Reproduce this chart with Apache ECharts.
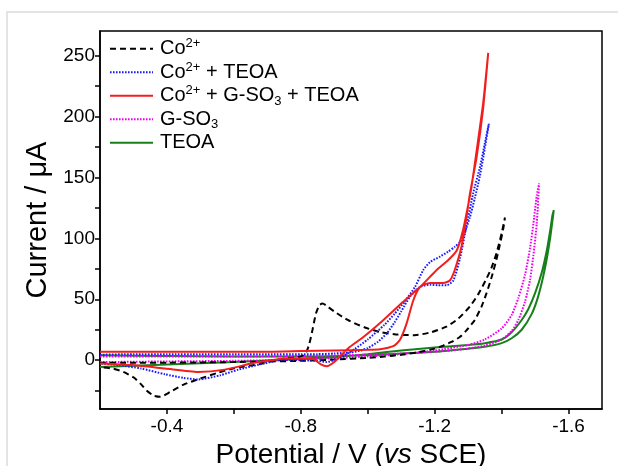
<!DOCTYPE html>
<html>
<head>
<meta charset="utf-8">
<script src="https://cdn.jsdelivr.net/npm/echarts@6/dist/echarts.min.js"></script>
<style>
  html, body { margin: 0; padding: 0; background: #fff; }
  #cv { width: 618px; height: 466px; }
</style>
</head>
<body>
<div id="cv"></div>
<script>
// Cyclic voltammograms: potential (V vs SCE) and current (µA), forward and return sweeps.

const seriesNames = ['Co2+', 'Co2+ + TEOA', 'Co2+ + G-SO3 + TEOA', 'G-SO3', 'TEOA'];

// Co2+
const coFwdV = [-0.20, -0.30, -0.40, -0.50, -0.60, -0.70, -0.80, -0.90, -1.00, -1.05, -1.10, -1.15, -1.20, -1.225, -1.25, -1.275, -1.295, -1.32, -1.34, -1.355, -1.37, -1.385, -1.395, -1.405, -1.41];
const coFwdI = [-2, -2, -2, -1.8, -1.5, -1, -0.5, 0.5, 2, 3, 4.5, 6.5, 9.5, 12, 15, 19, 24.5, 33, 44, 55, 68, 83, 95, 108, 117];
const coRevV = [-1.41, -1.40, -1.385, -1.37, -1.355, -1.33, -1.305, -1.27, -1.235, -1.19, -1.14, -1.09, -1.04, -0.99, -0.94, -0.90, -0.875, -0.865, -0.855, -0.845, -0.835, -0.825, -0.815, -0.80, -0.76, -0.72, -0.68, -0.60, -0.55, -0.50, -0.45, -0.41, -0.38, -0.36, -0.34, -0.32, -0.30, -0.27, -0.24, -0.20];
const coRevI = [117, 104, 88, 76, 67, 54, 44, 34, 27.5, 23, 20.5, 21, 23, 27, 33, 40, 45, 46.5, 45, 38, 25, 13, 6, 3, 1.5, 0, -3, -6.6, -10.5, -15, -20, -26, -30, -29, -25, -19, -14, -9.6, -7, -5.7];

// Co2+ + TEOA
const coTeoaFwdV = [-0.20, -0.30, -0.40, -0.50, -0.60, -0.70, -0.80, -0.85, -0.90, -0.95, -0.98, -1.00, -1.03, -1.057, -1.08, -1.10, -1.126, -1.156, -1.186, -1.21, -1.236, -1.256, -1.276, -1.295, -1.315, -1.335, -1.35, -1.362];
const coTeoaFwdI = [4.5, 5, 5, 5, 5, 5, 5, 5, 5.5, 6.5, 8, 10, 15, 22, 31, 40, 52, 60, 62, 61.5, 61.5, 65.5, 84, 110, 137, 158, 178, 194];
const coTeoaRevV = [-1.362, -1.35, -1.335, -1.32, -1.305, -1.29, -1.276, -1.26, -1.24, -1.216, -1.186, -1.166, -1.141, -1.11, -1.08, -1.05, -1.00, -0.96, -0.93, -0.90, -0.875, -0.85, -0.80, -0.75, -0.69, -0.613, -0.56, -0.493, -0.45, -0.394, -0.323, -0.255, -0.20];
const coTeoaRevI = [194, 174, 151, 133, 117, 105, 97, 93, 89, 85, 80.5, 74, 60, 48, 38, 29, 17, 9, 4, 0, -1.5, -0.5, 0, 0.5, -2.7, -7.7, -12.3, -15.8, -14.5, -11.5, -6.8, -4, -2.7];

// Co2+ + G-SO3 + TEOA
const coGsoFwdV = [-0.20, -0.30, -0.40, -0.50, -0.60, -0.70, -0.80, -0.90, -1.00, -1.037, -1.076, -1.096, -1.116, -1.136, -1.156, -1.186, -1.226, -1.246, -1.26, -1.28, -1.295, -1.305, -1.325, -1.345, -1.36];
const coGsoFwdI = [7, 7, 7, 7, 7, 7, 7.5, 8, 8.5, 9, 11.5, 16.5, 30, 49, 60, 63.4, 63.4, 65.6, 74, 93, 117, 136, 166, 207, 252];
const coGsoRevV = [-1.36, -1.345, -1.325, -1.31, -1.30, -1.285, -1.266, -1.24, -1.206, -1.156, -1.106, -1.047, -0.987, -0.947, -0.92, -0.90, -0.878, -0.86, -0.838, -0.80, -0.752, -0.70, -0.652, -0.573, -0.493, -0.394, -0.294, -0.20];
const coGsoRevI = [252, 211, 171, 142, 127, 107, 90, 82, 74, 60, 48, 33, 19, 11, 4, -1.5, -5, -3.5, 1, 1.5, 1.4, -0.5, -2.7, -7.7, -9.6, -6.8, -4, -2.7];

// G-SO3
const gsoFwdV = [-0.20, -0.40, -0.60, -0.80, -1.00, -1.10, -1.20, -1.25, -1.30, -1.35, -1.40, -1.43, -1.45, -1.47, -1.485, -1.495, -1.505, -1.512];
const gsoFwdI = [3, 3, 3, 3.5, 4.5, 5.5, 7, 8, 9.5, 12, 17, 24, 33, 48, 66, 86, 112, 145];
const gsoRevV = [-1.512, -1.505, -1.495, -1.485, -1.47, -1.45, -1.43, -1.40, -1.35, -1.30, -1.20, -1.10, -1.00, -0.80, -0.60, -0.40, -0.20];
const gsoRevI = [145, 135, 112, 92, 70, 51, 37, 26, 17, 12.5, 8, 5, 3, 0.5, -0.5, -1, -1.5];

// TEOA
const teoaFwdV = [-0.20, -0.40, -0.60, -0.80, -1.00, -1.10, -1.20, -1.30, -1.35, -1.40, -1.43, -1.46, -1.49, -1.51, -1.53, -1.545, -1.556];
const teoaFwdI = [4, 3.5, 3, 3, 4, 5.5, 7, 9.5, 11, 14, 18, 25, 38, 53, 76, 100, 123];
const teoaRevV = [-1.556, -1.552, -1.545, -1.535, -1.52, -1.50, -1.48, -1.46, -1.43, -1.40, -1.35, -1.30, -1.20, -1.10, -1.00, -0.90, -0.80, -0.60, -0.40, -0.20];
const teoaRevI = [123, 119, 106, 90, 72, 55, 42, 33, 23, 17, 14, 12.5, 10.5, 8, 5, 2.5, 1, -1.5, -3.5, -5.5];

// Axis ticks and labels
const xTickValues = [-0.4, -0.6, -0.8, -1.0, -1.2, -1.4, -1.6];
const xLabelValues = [-0.4, -0.8, -1.2, -1.6];
const yTickValues = [-25, 0, 25, 50, 75, 100, 125, 150, 175, 200, 225, 250];
const yLabelValues = [0, 50, 100, 150, 200, 250];

// Join the forward and the return sweep into one closed trace
function sweep(fv, fi, rv, ri) {
  const pts = [];
  fv.forEach((v, k) => pts.push([v, fi[k]]));
  rv.forEach((v, k) => pts.push([v, ri[k]]));
  return pts;
}

const FONT = "'Liberation Sans', Arial, sans-serif";

const traces = [
  { name: seriesNames[0], data: sweep(coFwdV, coFwdI, coRevV, coRevI), color: '#000000', type: [6, 4], z: 3 },
  { name: seriesNames[1], data: sweep(coTeoaFwdV, coTeoaFwdI, coTeoaRevV, coTeoaRevI), color: '#1a1aff', type: [1.6, 1.4], z: 4 },
  { name: seriesNames[2], data: sweep(coGsoFwdV, coGsoFwdI, coGsoRevV, coGsoRevI), color: '#f21d1d', type: 'solid', z: 5 },
  { name: seriesNames[3], data: sweep(gsoFwdV, gsoFwdI, gsoRevV, gsoRevI), color: '#f000f0', type: [1.6, 1.4], z: 2 },
  { name: seriesNames[4], data: sweep(teoaFwdV, teoaFwdI, teoaRevV, teoaRevI), color: '#17801a', type: 'solid', z: 1 }
];

const chart = echarts.init(document.getElementById('cv'), null, { renderer: 'canvas' });

chart.setOption({
  animation: false,
  backgroundColor: '#ffffff',
  textStyle: { fontFamily: FONT },
  graphic: [{
    type: 'polyline',
    silent: true,
    shape: { points: [[7, 466], [7, 12], [618, 12]] },
    style: { stroke: '#e4e4e4', lineWidth: 2, fill: null }
  }],
  grid: {
    left: 100, top: 31, right: 16, bottom: 57,
    containLabel: false, outerBoundsMode: 'none',
    show: true, borderColor: '#000', borderWidth: 1.5, backgroundColor: 'transparent'
  },
  legend: {
    orient: 'vertical',
    left: 109, top: 37, padding: 0,
    itemWidth: 43, itemHeight: 12, itemGap: 0,
    data: seriesNames,
    itemStyle: { opacity: 0, borderWidth: 0 },
    formatter: (n) => n.replace(/2\+/g, '{sup|2+}').replace(/SO3/g, 'SO{sub|3}'),
    textStyle: {
      fontFamily: FONT, fontSize: 20, color: '#000', lineHeight: 23.5,
      padding: [0, 0, 0, 2],
      rich: {
        sup: { fontFamily: FONT, fontSize: 13, lineHeight: 13, verticalAlign: 'top', color: '#000' },
        sub: { fontFamily: FONT, fontSize: 13, lineHeight: 13, verticalAlign: 'bottom', color: '#000' }
      }
    }
  },
  xAxis: {
    type: 'value',
    min: -1.7, max: -0.2, inverse: true,
    name: 'Potential / V ({i|vs} SCE)',
    nameLocation: 'middle', nameGap: 29,
    nameTextStyle: {
      fontFamily: FONT, fontSize: 28, color: '#000',
      rich: { i: { fontFamily: FONT, fontSize: 28, fontStyle: 'italic', color: '#000' } }
    },
    axisLine: { show: true, onZero: false, lineStyle: { color: '#000', width: 1.5 } },
    axisTick: { show: true, customValues: xTickValues, length: 5, lineStyle: { color: '#000', width: 1.5 } },
    axisLabel: {
      customValues: xLabelValues, margin: 8,
      fontFamily: FONT, fontSize: 19, color: '#000',
      formatter: (v) => v.toFixed(1)
    },
    splitLine: { show: false }
  },
  yAxis: {
    type: 'value',
    min: -40, max: 270,
    name: 'Current / μA',
    nameLocation: 'middle', nameGap: 44, nameRotate: 90,
    nameTextStyle: { fontFamily: FONT, fontSize: 29, color: '#000' },
    axisLine: { show: true, onZero: false, lineStyle: { color: '#000', width: 1.5 } },
    axisTick: { show: true, customValues: yTickValues, length: 5, lineStyle: { color: '#000', width: 1.5 } },
    axisLabel: {
      customValues: yLabelValues, margin: 5,
      fontFamily: FONT, fontSize: 19, color: '#000'
    },
    splitLine: { show: false }
  },
  series: traces.map(t => ({
    name: t.name,
    type: 'line',
    data: t.data,
    z: t.z,
    showSymbol: false,
    symbol: 'none',
    smooth: 0.2,
    clip: true,
    color: t.color,
    lineStyle: { color: t.color, width: 2, type: t.type }
  }))
});
</script>
</body>
</html>
